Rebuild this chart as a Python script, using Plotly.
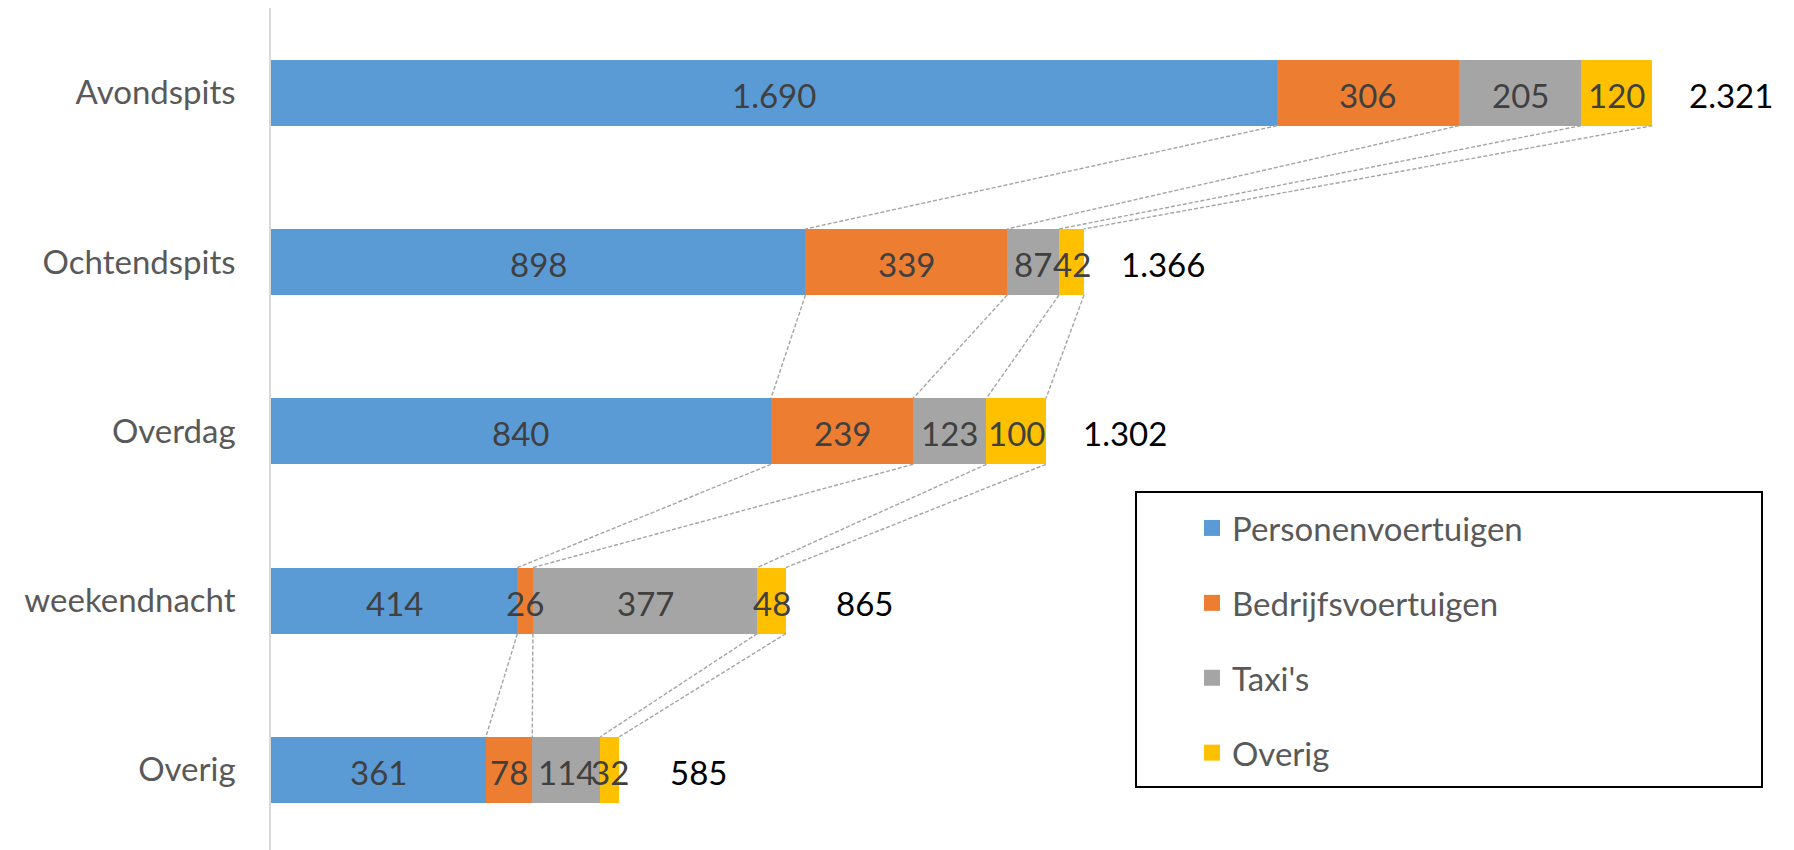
import plotly.graph_objects as go

categories = ["Avondspits", "Ochtendspits", "Overdag", "weekendnacht", "Overig"]
series_names = ["Personenvoertuigen", "Bedrijfsvoertuigen", "Taxi's", "Overig"]
personen = [1690, 898, 840, 414, 361]
bedrijf = [306, 339, 239, 26, 78]
taxis = [205, 87, 123, 377, 114]
overig = [120, 42, 100, 48, 32]
colors = ["#5B9BD5", "#ED7D31", "#A5A5A5", "#FFC000"]

series = [personen, bedrijf, taxis, overig]
totals = [sum(v) for v in zip(*series)]


def nl(v):
    return f"{v:,}".replace(",", ".")


FONT = "Lato"
FS = 33
BARW = 0.39
ypos = list(range(len(categories)))

fig = go.Figure()
for name, vals, col in zip(series_names, series, colors):
    fig.add_trace(go.Bar(
        y=ypos, x=vals, orientation="h", width=BARW,
        marker=dict(color=col, line=dict(width=0)),
        showlegend=False, hoverinfo="skip", name=name,
    ))

# cumulative boundaries per category
cums = []
for i in range(len(categories)):
    c, s = [], 0
    for vals in series:
        s += vals[i]
        c.append(s)
    cums.append(c)

# series (connector) lines between consecutive bars
lx, ly = [], []
for i in range(len(categories) - 1):
    for k in range(len(series)):
        lx += [cums[i][k], cums[i + 1][k], None]
        ly += [i + BARW / 2, i + 1 - BARW / 2, None]
fig.add_trace(go.Scatter(
    x=lx, y=ly, mode="lines", line=dict(color="#A5A5A5", width=1.4, dash="4px,2px"),
    showlegend=False, hoverinfo="skip",
))

# data labels on top of all segments
for k, vals in enumerate(series):
    for i, v in enumerate(vals):
        fig.add_annotation(
            x=cums[i][k] - v / 2, y=i, text=nl(v), showarrow=False,
            xanchor="center", yanchor="middle", yshift=-2,
            font=dict(family=FONT, size=FS, color="#404040"),
        )

# legend entries
for gi, (name, col) in enumerate(zip(series_names, colors)):
    fig.add_trace(go.Scatter(
        x=[None], y=[None], mode="markers", name=name, legendgroup=f"g{gi}",
        marker=dict(symbol="square", size=20, color=col),
    ))

for i, t in enumerate(totals):
    fig.add_annotation(
        x=t, y=i, text=nl(t), showarrow=False, xanchor="center", xshift=79,
        yanchor="middle", yshift=-2,
        font=dict(family=FONT, size=FS, color="#000000"),
    )

OFF = 8  # page body margin
W, H = 1786, 842
ml, mr, mt, mb = 263, 35, 0, 0
pw, ph = W - ml - mr, H - mt - mb


def px(xp):
    return (xp - OFF - ml) / pw


def py(yp):
    return 1 - (yp - OFF - mt) / ph


fig.add_shape(type="rect", xref="paper", yref="paper",
              x0=px(1136), x1=px(1762), y0=py(787), y1=py(492),
              line=dict(color="#000000", width=2), fillcolor="rgba(0,0,0,0)")

fig.update_layout(
    width=W, height=H, margin=dict(l=ml, r=mr, t=mt, b=mb),
    barmode="stack", plot_bgcolor="white", paper_bgcolor="white",
    font=dict(family=FONT, size=FS, color="#595959"),
    xaxis=dict(range=[0, 2500], visible=False, showgrid=False, zeroline=False),
    yaxis=dict(range=[4.473, -0.5], tickvals=ypos, ticktext=categories,
               showline=True, linecolor="#D9D9D9", linewidth=1.5,
               showgrid=False, zeroline=False, ticks="", ticklabelstandoff=27,
               tickfont=dict(family=FONT, size=FS, color="#595959")),
    legend=dict(x=px(1192), y=py(500), xanchor="left", yanchor="top",
                bgcolor="rgba(0,0,0,0)", borderwidth=0,
                font=dict(family=FONT, size=FS, color="#595959"),
                tracegroupgap=29, itemwidth=30),
)

fig.write_html("out.html")
